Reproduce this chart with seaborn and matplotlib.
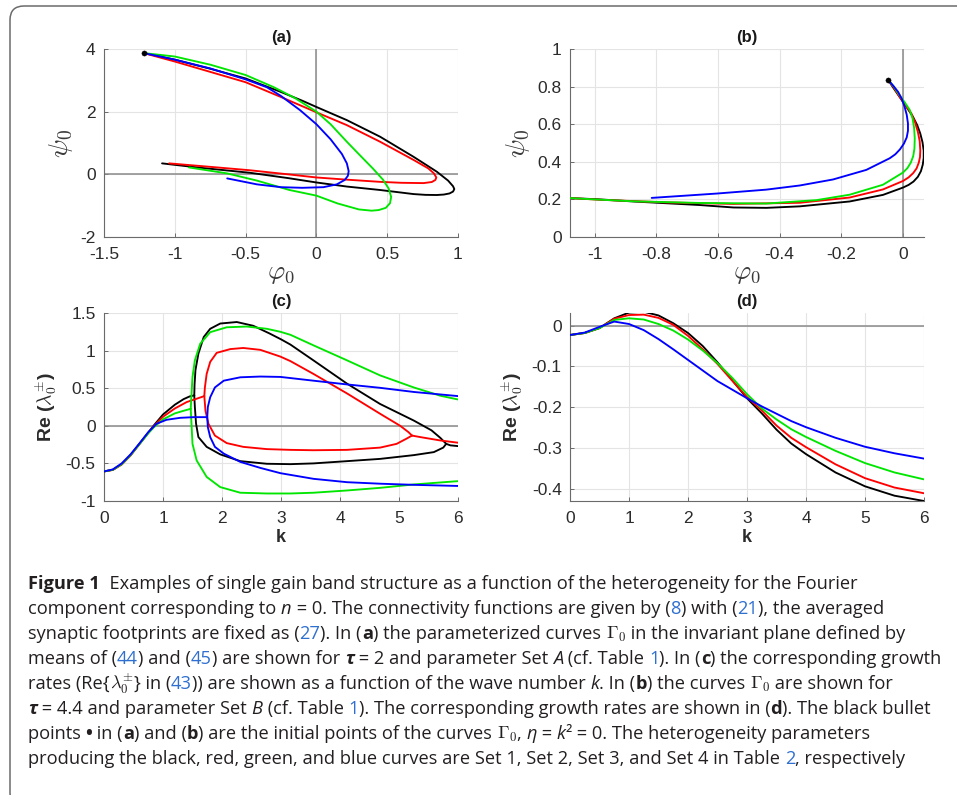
import matplotlib
matplotlib.use("Agg")
import matplotlib.pyplot as plt
from matplotlib.patches import FancyBboxPatch
from matplotlib.transforms import IdentityTransform
import seaborn as sns

# ---------------------------------------------------------------------------
# (a) curves Gamma_0 in the (phi_0, psi_0) plane, tau = 2, parameter Set A
# ---------------------------------------------------------------------------
A_BLACK = [(-1.22, 3.87), (-1.0, 3.66), (-0.75, 3.37), (-0.5, 3.06), (-0.257, 2.64),
           (-0.1, 2.35), (0.0, 2.15), (0.215, 1.73), (0.45, 1.2), (0.686, 0.56),
           (0.85, 0.085), (0.93, -0.2), (0.965, -0.38), (0.974, -0.47), (0.965, -0.55),
           (0.94, -0.61), (0.9, -0.645), (0.85, -0.66), (0.77, -0.655), (0.686, -0.63),
           (0.45, -0.5), (0.215, -0.39), (0.0, -0.26), (-0.2, -0.12), (-0.47, 0.05),
           (-0.82, 0.21), (-1.09, 0.35)]
A_RED = [(-1.22, 3.87), (-1.0, 3.6), (-0.75, 3.27), (-0.5, 2.94), (-0.257, 2.48),
         (0.0, 1.98), (0.215, 1.57), (0.45, 1.04), (0.686, 0.46), (0.79, 0.19),
         (0.83, 0.03), (0.847, -0.1), (0.84, -0.18), (0.815, -0.245), (0.757, -0.28),
         (0.6, -0.27), (0.45, -0.24), (0.215, -0.17), (0.0, -0.1), (-0.2, 0.0),
         (-0.47, 0.13), (-0.7, 0.22), (-1.04, 0.35)]
A_GREEN = [(-1.22, 3.87), (-1.0, 3.76), (-0.75, 3.5), (-0.5, 3.17), (-0.3, 2.78),
           (-0.15, 2.43), (0.0, 2.0), (0.1, 1.6), (0.215, 1.04), (0.32, 0.55),
           (0.40, 0.18), (0.47, -0.17), (0.51, -0.45), (0.528, -0.72), (0.52, -0.92),
           (0.49, -1.07), (0.44, -1.14), (0.39, -1.16), (0.3, -1.12), (0.15, -0.93),
           (0.0, -0.68), (-0.19, -0.5), (-0.42, -0.2), (-0.63, 0.03), (-0.9, 0.22)]
A_BLUE = [(-1.22, 3.87), (-1.0, 3.66), (-0.75, 3.38), (-0.5, 3.03), (-0.35, 2.78),
          (-0.25, 2.5), (-0.116, 2.05), (0.0, 1.6), (0.1, 1.12), (0.18, 0.65),
          (0.215, 0.35), (0.228, 0.1), (0.222, -0.05), (0.2, -0.18), (0.144, -0.32),
          (0.05, -0.41), (-0.1, -0.43), (-0.25, -0.41), (-0.42, -0.32), (-0.63, -0.13)]

# ---------------------------------------------------------------------------
# (b) curves Gamma_0, tau = 4.4, parameter Set B
# ---------------------------------------------------------------------------
B_BLACK = [(-0.049, 0.837), (-0.03, 0.79), (-0.011, 0.745), (0.012, 0.69), (0.032, 0.64),
           (0.046, 0.595), (0.056, 0.55), (0.063, 0.505), (0.067, 0.46), (0.067, 0.42),
           (0.064, 0.385), (0.058, 0.35), (0.048, 0.32), (0.034, 0.295), (0.018, 0.277),
           (0.0, 0.263), (-0.065, 0.224), (-0.173, 0.189), (-0.335, 0.163),
           (-0.443, 0.155), (-0.55, 0.157), (-0.659, 0.17), (-0.875, 0.189),
           (-0.994, 0.201), (-1.08, 0.207)]
B_RED = [(-0.049, 0.837), (-0.03, 0.795), (-0.013, 0.75), (0.008, 0.70), (0.027, 0.657),
         (0.039, 0.61), (0.048, 0.56), (0.054, 0.51), (0.056, 0.46), (0.055, 0.425),
         (0.051, 0.395), (0.044, 0.365), (0.033, 0.34), (0.018, 0.317), (0.0, 0.298),
         (-0.065, 0.253), (-0.173, 0.21), (-0.335, 0.182), (-0.55, 0.176),
         (-0.767, 0.184), (-0.983, 0.198), (-1.08, 0.207)]
B_GREEN = [(-0.049, 0.837), (-0.03, 0.8), (-0.014, 0.76), (0.006, 0.715), (0.022, 0.675),
           (0.031, 0.63), (0.036, 0.58), (0.038, 0.525), (0.037, 0.47), (0.033, 0.43),
           (0.025, 0.395), (0.014, 0.366), (0.0, 0.343), (-0.065, 0.278),
           (-0.173, 0.225), (-0.281, 0.196), (-0.443, 0.178), (-0.659, 0.181),
           (-0.875, 0.19), (-1.0, 0.2), (-1.08, 0.207)]
B_BLUE = [(-0.049, 0.837), (-0.032, 0.805), (-0.016, 0.772), (-0.004, 0.735),
          (0.005, 0.693), (0.012, 0.65), (0.016, 0.604), (0.016, 0.565), (0.012, 0.53),
          (0.003, 0.497), (-0.01, 0.466), (-0.025, 0.44), (-0.043, 0.419),
          (-0.119, 0.357), (-0.227, 0.306), (-0.335, 0.274), (-0.443, 0.252),
          (-0.605, 0.231), (-0.815, 0.208)]

# ---------------------------------------------------------------------------
# (c) growth rates Re(lambda_0^+-) versus k, Set A
# shared part (complex pair) + upper / lower real branches (+ merged tail)
# ---------------------------------------------------------------------------
C_BLACK_SHARED = [(0.0, -0.607), (0.15, -0.585), (0.3, -0.51), (0.45, -0.39), (0.6, -0.24),
                  (0.75, -0.09), (0.85, 0.01), (1.0, 0.15), (1.2, 0.28), (1.35, 0.355),
                  (1.45, 0.39), (1.53, 0.405)]
C_BLACK_UPPER = [(1.53, 0.405), (1.535, 0.55), (1.55, 0.74), (1.60, 0.96), (1.69, 1.18),
                 (1.80, 1.29), (1.97, 1.36), (2.25, 1.38), (2.53, 1.33), (2.8, 1.23),
                 (3.0, 1.15), (3.16, 1.08), (3.55, 0.87), (4.12, 0.56), (4.68, 0.29),
                 (5.25, 0.07), (5.55, -0.06), (5.7, -0.16), (5.8, -0.24)]
C_BLACK_LOWER = [(1.53, 0.405), (1.54, 0.25), (1.56, 0.03), (1.60, -0.15), (1.74, -0.28),
                 (1.97, -0.38), (2.31, -0.47), (2.76, -0.505), (3.16, -0.51), (3.55, -0.50),
                 (4.12, -0.47), (4.68, -0.44), (5.25, -0.39), (5.59, -0.35), (5.75, -0.29),
                 (5.8, -0.24)]
C_BLACK_TAIL = [(5.8, -0.24), (5.87, -0.26), (6.0, -0.27)]

C_RED_SHARED = [(0.0, -0.607), (0.15, -0.587), (0.3, -0.515), (0.45, -0.395), (0.6, -0.245),
                (0.75, -0.095), (0.85, 0.0), (1.0, 0.12), (1.2, 0.23), (1.4, 0.315),
                (1.57, 0.36), (1.70, 0.395)]
C_RED_UPPER = [(1.70, 0.395), (1.71, 0.51), (1.74, 0.69), (1.80, 0.85), (1.91, 0.97),
               (2.14, 1.02), (2.36, 1.035), (2.65, 1.01), (2.99, 0.92), (3.16, 0.86),
               (3.55, 0.69), (4.12, 0.43), (4.68, 0.16), (5.02, 0.0), (5.16, -0.084),
               (5.22, -0.13)]
C_RED_LOWER = [(1.70, 0.395), (1.72, 0.20), (1.77, 0.027), (1.88, -0.13), (2.08, -0.23),
               (2.36, -0.28), (2.76, -0.31), (3.16, -0.32), (3.55, -0.325), (4.12, -0.32),
               (4.68, -0.29), (4.96, -0.24), (5.13, -0.17), (5.22, -0.13)]
C_RED_TAIL = [(5.22, -0.13), (5.36, -0.15), (5.70, -0.195), (6.0, -0.225)]

C_GREEN_SHARED = [(0.0, -0.607), (0.15, -0.585), (0.3, -0.51), (0.45, -0.39), (0.6, -0.245),
                  (0.75, -0.1), (0.85, -0.015), (1.0, 0.085), (1.2, 0.165), (1.35, 0.20),
                  (1.47, 0.226)]
C_GREEN_UPPER = [(1.47, 0.226), (1.48, 0.38), (1.50, 0.65), (1.54, 0.87), (1.63, 1.09),
                 (1.80, 1.245), (2.08, 1.31), (2.42, 1.32), (2.76, 1.29), (2.99, 1.25),
                 (3.16, 1.21), (3.55, 1.07), (4.12, 0.87), (4.68, 0.67), (5.25, 0.51),
                 (5.70, 0.40), (6.0, 0.35)]
C_GREEN_LOWER = [(1.47, 0.226), (1.48, 0.07), (1.50, -0.24), (1.57, -0.46), (1.74, -0.68),
                 (1.97, -0.815), (2.31, -0.89), (2.76, -0.90), (3.16, -0.90), (3.55, -0.89),
                 (4.12, -0.86), (4.68, -0.825), (5.25, -0.78), (6.0, -0.736)]

C_BLUE_SHARED = [(0.0, -0.607), (0.15, -0.58), (0.3, -0.5), (0.45, -0.38), (0.6, -0.235),
                 (0.75, -0.085), (0.89, 0.027), (1.06, 0.08), (1.29, 0.106), (1.52, 0.115),
                 (1.75, 0.115)]
C_BLUE_UPPER = [(1.75, 0.115), (1.76, 0.25), (1.80, 0.38), (1.88, 0.51), (2.03, 0.60),
                (2.31, 0.645), (2.65, 0.655), (2.99, 0.65), (3.55, 0.60), (4.12, 0.55),
                (4.68, 0.505), (5.25, 0.45), (6.0, 0.395)]
C_BLUE_LOWER = [(1.75, 0.115), (1.76, -0.018), (1.80, -0.15), (1.88, -0.28), (2.03, -0.37),
                (2.31, -0.48), (2.65, -0.56), (2.99, -0.63), (3.55, -0.705), (4.12, -0.75),
                (4.68, -0.77), (5.25, -0.785), (6.0, -0.80)]

# ---------------------------------------------------------------------------
# (d) growth rates versus k, Set B
# ---------------------------------------------------------------------------
D_K = [0.0, 0.25, 0.5, 0.75, 1.0, 1.25, 1.5, 1.75, 2.0, 2.25, 2.5, 2.75, 3.0, 3.25,
       3.5, 3.75, 4.0, 4.5, 5.0, 5.5, 6.0]
D_BLACK = [-0.023, -0.018, -0.006, 0.018, 0.032, 0.034, 0.025, 0.006, -0.018, -0.05,
           -0.09, -0.134, -0.178, -0.215, -0.255, -0.289, -0.315, -0.36, -0.394, -0.417, -0.43]
D_RED = [-0.023, -0.018, -0.006, 0.017, 0.026, 0.027, 0.019, 0.002, -0.025, -0.058,
         -0.094, -0.135, -0.175, -0.208, -0.245, -0.275, -0.298, -0.34, -0.374, -0.397, -0.411]
D_GREEN = [-0.023, -0.018, -0.006, 0.014, 0.018, 0.015, 0.004, -0.012, -0.034, -0.061,
           -0.092, -0.128, -0.168, -0.203, -0.23, -0.254, -0.273, -0.307, -0.337, -0.36, -0.377]
D_BLUE = [-0.023, -0.017, -0.003, 0.010, 0.004, -0.011, -0.033, -0.058, -0.084, -0.11,
          -0.136, -0.157, -0.178, -0.198, -0.216, -0.234, -0.249, -0.275, -0.297, -0.313, -0.326]

SET_COLORS = {"black": "#000000", "red": "#ff0000", "green": "#00e600", "blue": "#0000ff"}

# ---------------------------------------------------------------------------
W, H = 957, 795
LW = 1.35
AX_COLOR = "#2b2b2b"

sns.set_theme(style="whitegrid")
plt.rcParams.update({
    "font.family": ["Liberation Sans", "DejaVu Sans"],
    "mathtext.fontset": "cm",
    "axes.unicode_minus": False,
    "axes.edgecolor": "#6a6a6a",
    "axes.linewidth": 0.8,
    "grid.color": "#e4e4e4",
    "grid.linewidth": 0.8,
    "xtick.color": "#6a6a6a",
    "ytick.color": "#6a6a6a",
    "xtick.labelcolor": AX_COLOR,
    "ytick.labelcolor": AX_COLOR,
})

TICK_SIZE = 12.5

fig = plt.figure(figsize=(W / 100, H / 100), dpi=100)


def add_axes(left, top, right, bottom):
    return fig.add_axes([left / W, 1 - bottom / H, (right - left) / W, (bottom - top) / H])


def fmt(v):
    return "%g" % v


def style_axes(ax, xlim, ylim, xticks, yticks, title):
    ax.set_xlim(*xlim)
    ax.set_ylim(*ylim)
    ax.set_xticks(xticks)
    ax.set_yticks(yticks)
    ax.set_xticklabels([fmt(v) for v in xticks], fontsize=TICK_SIZE)
    ax.set_yticklabels([fmt(v) for v in yticks], fontsize=TICK_SIZE)
    ax.grid(True, zorder=0)
    ax.set_axisbelow(True)
    for side in ("top", "right"):
        ax.spines[side].set_visible(False)
    ax.tick_params(direction="in", length=3, width=0.7, bottom=True, left=True)
    ax.tick_params(axis="x", pad=7)
    ax.tick_params(axis="y", pad=6)
    ax.set_title(title, fontsize=12, fontweight="bold", color="#1a1a1a", pad=5)


def draw_path(ax, pts, color):
    xs = [p[0] for p in pts]
    ys = [p[1] for p in pts]
    sns.lineplot(x=xs, y=ys, sort=False, estimator=None, color=color, lw=LW, ax=ax,
                 zorder=3)


def zero_lines(ax, h=True, v=True):
    if h:
        ax.axhline(0, color="#8a8a8a", lw=1.1, zorder=1)
    if v:
        ax.axvline(0, color="#8a8a8a", lw=1.1, zorder=1)


phi_label = r"$\varphi_\mathbf{0}$"
psi_label = r"$\psi_\mathbf{0}$"
re_label = r"Re ($\lambda_0^{\pm}$)"

# ---- (a) ----
ax_a = add_axes(104, 49, 458, 237)
style_axes(ax_a, (-1.5, 1), (-2, 4), [-1.5, -1, -0.5, 0, 0.5, 1], [-2, 0, 2, 4], "(a)")
zero_lines(ax_a)
for pts, c in ((A_BLACK, "black"), (A_RED, "red"), (A_GREEN, "green"), (A_BLUE, "blue")):
    draw_path(ax_a, pts, SET_COLORS[c])
sns.scatterplot(x=[A_BLACK[0][0]], y=[A_BLACK[0][1]], color="black", s=14,
                edgecolor="black", ax=ax_a, zorder=5)
ax_a.set_xlabel(phi_label, fontsize=19, color="#3a3a3a", labelpad=0)
ax_a.set_ylabel(psi_label, fontsize=20, color="#3a3a3a", labelpad=4)

# ---- (b) ----
ax_b = add_axes(570, 49, 924, 237)
style_axes(ax_b, (-1.08, 0.068), (0, 1), [-1, -0.8, -0.6, -0.4, -0.2, 0],
           [0, 0.2, 0.4, 0.6, 0.8, 1], "(b)")
zero_lines(ax_b, h=False)
for pts, c in ((B_BLACK, "black"), (B_RED, "red"), (B_GREEN, "green"), (B_BLUE, "blue")):
    draw_path(ax_b, pts, SET_COLORS[c])
sns.scatterplot(x=[B_BLACK[0][0]], y=[B_BLACK[0][1]], color="black", s=14,
                edgecolor="black", ax=ax_b, zorder=5)
ax_b.set_xlabel(phi_label, fontsize=19, color="#3a3a3a", labelpad=0)
ax_b.set_ylabel(psi_label, fontsize=20, color="#3a3a3a", labelpad=4)

# ---- (c) ----
ax_c = add_axes(104, 313, 458, 501)
style_axes(ax_c, (0, 6), (-1, 1.5), [0, 1, 2, 3, 4, 5, 6], [-1, -0.5, 0, 0.5, 1, 1.5], "(c)")
zero_lines(ax_c, v=False)
c_sets = [
    ("black", [C_BLACK_SHARED, C_BLACK_UPPER, C_BLACK_LOWER, C_BLACK_TAIL]),
    ("red", [C_RED_SHARED, C_RED_UPPER, C_RED_LOWER, C_RED_TAIL]),
    ("green", [C_GREEN_SHARED, C_GREEN_UPPER, C_GREEN_LOWER]),
    ("blue", [C_BLUE_SHARED, C_BLUE_UPPER, C_BLUE_LOWER]),
]
for c, parts in c_sets:
    for pts in parts:
        draw_path(ax_c, pts, SET_COLORS[c])
ax_c.set_xlabel("k", fontsize=13, fontweight="bold", color=AX_COLOR, labelpad=2)
ax_c.set_ylabel(re_label, fontsize=14, fontweight="bold", color=AX_COLOR, labelpad=5)

# ---- (d) ----
ax_d = add_axes(570, 313, 924, 501)
style_axes(ax_d, (0, 6), (-0.43, 0.031), [0, 1, 2, 3, 4, 5, 6],
           [-0.4, -0.3, -0.2, -0.1, 0], "(d)")
zero_lines(ax_d, v=False)
for vals, c in ((D_BLACK, "black"), (D_RED, "red"), (D_GREEN, "green"), (D_BLUE, "blue")):
    draw_path(ax_d, list(zip(D_K, vals)), SET_COLORS[c])
ax_d.set_xlabel("k", fontsize=13, fontweight="bold", color=AX_COLOR, labelpad=2)
ax_d.set_ylabel(re_label, fontsize=14, fontweight="bold", color=AX_COLOR, labelpad=5)

# ---------------------------------------------------------------------------
# caption block
# ---------------------------------------------------------------------------
CAP_FONT = ["Open Sans", "DejaVu Sans"]
CAP_COLOR = "#231f20"
LINK = "#2f6fd0"
STYLES = {
    "n": {},
    "b": {"fontweight": "bold"},
    "i": {"fontstyle": "italic"},
    "bi": {"fontweight": "bold", "fontstyle": "italic"},
    "l": {"color": LINK},
    "m": {},
}

CAPTION = [
    [("Figure 1", "b"),
     ("  Examples of single gain band structure as a function of the heterogeneity for the Fourier", "n")],
    [("component corresponding to ", "n"), ("n", "i"),
     (" = 0. The connectivity functions are given by (", "n"), ("8", "l"), (") with (", "n"),
     ("21", "l"), ("), the averaged", "n")],
    [("synaptic footprints are fixed as (", "n"), ("27", "l"), ("). In (", "n"), ("a", "b"),
     (") the parameterized curves ", "n"), (r"$\Gamma_0$", "m"),
     (" in the invariant plane defined by", "n")],
    [("means of (", "n"), ("44", "l"), (") and (", "n"), ("45", "l"), (") are shown for ", "n"),
     ("τ", "bi"), (" = 2 and parameter Set ", "n"), ("A", "i"), (" (cf. Table ", "n"),
     ("1", "l"), ("). In (", "n"), ("c", "b"), (") the corresponding growth", "n")],
    [("rates (Re{", "n"), (r"$\lambda_0^{\pm}$", "m"), ("} in (", "n"), ("43", "l"),
     (")) are shown as a function of the wave number ", "n"), ("k", "i"), (". In (", "n"),
     ("b", "b"), (") the curves ", "n"), (r"$\Gamma_0$", "m"), (" are shown for", "n")],
    [("τ", "bi"), (" = 4.4 and parameter Set ", "n"), ("B", "i"), (" (cf. Table ", "n"),
     ("1", "l"), ("). The corresponding growth rates are shown in (", "n"), ("d", "b"),
     ("). The black bullet", "n")],
    [("points ", "n"), ("•", "b"), (" in (", "n"), ("a", "b"), (") and (", "n"), ("b", "b"),
     (") are the initial points of the curves ", "n"), (r"$\Gamma_0$", "m"), (", ", "n"),
     ("η", "i"), (" = ", "n"), ("k", "i"), ("²", "n"), (" = 0. The heterogeneity parameters", "n")],
    [("producing the black, red, green, and blue curves are Set 1, Set 2, Set 3, and Set 4 in Table ", "n"),
     ("2", "l"), (", respectively", "n")],
]

renderer = fig.canvas.get_renderer()


def text_kw(style, size):
    kw = {"fontsize": size, "family": CAP_FONT, "color": CAP_COLOR}
    kw.update(STYLES[style])
    return kw


def run_width(text, style, size):
    kw = text_kw(style, size)
    if style == "m":
        t = fig.text(0, 0, text, **kw)
        w = t.get_window_extent(renderer).width
        t.remove()
        return w
    t1 = fig.text(0, 0, "|" + text + "|", **kw)
    t0 = fig.text(0, 0, "||", **kw)
    w = t1.get_window_extent(renderer).width - t0.get_window_extent(renderer).width
    t1.remove()
    t0.remove()
    return w


def line_width(runs, size):
    return sum(run_width(t, s, size) for t, s in runs)


# size chosen so that the widest caption line spans the block width
base = 12.0
cap_size = base * (940 - 28) / line_width(CAPTION[3], base)

x0, y0, dy = 28, 589, 25
for i, runs in enumerate(CAPTION):
    x = x0
    yb = y0 + i * dy
    for text, style in runs:
        fig.text(x / W, 1 - yb / H, text, ha="left", va="baseline", **text_kw(style, cap_size))
        x += run_width(text, style, cap_size)

# rounded frame around the figure block
frame = FancyBboxPatch((10, -12), W + 40, H - 6 + 12,
                       boxstyle="round,pad=0,rounding_size=14",
                       transform=IdentityTransform(), fill=False,
                       edgecolor="#6b6b6b", lw=1.1)
fig.add_artist(frame)

fig.savefig("out.png", dpi=100)
